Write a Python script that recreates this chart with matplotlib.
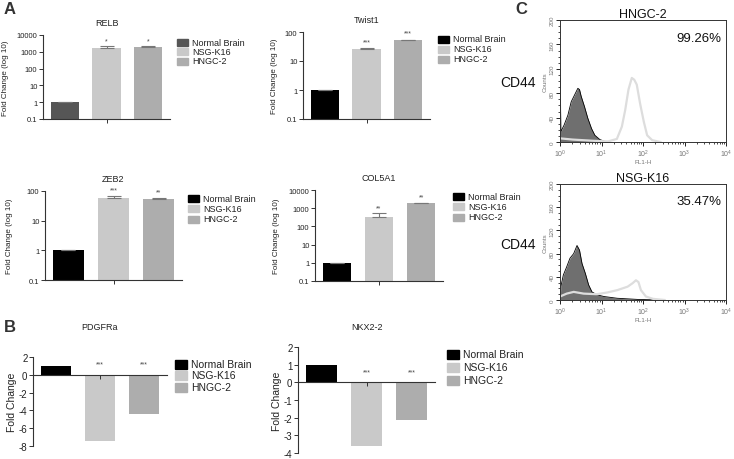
import numpy as np
import matplotlib
matplotlib.use("Agg")
import matplotlib.pyplot as plt
from matplotlib.patches import Rectangle
from matplotlib.ticker import FixedLocator, NullLocator, LogLocator, MultipleLocator

plt.rcParams["font.family"] = ["Liberation Sans", "DejaVu Sans"]
plt.rcParams["axes.unicode_minus"] = False

# DATA
groups = ["Normal Brain", "NSG-K16", "HNGC-2"]

relb_vals = [1, 1800, 1900]
relb_err = [0, 300, 200]
relb_stars = ["", "*", "*"]

twist_vals = [1, 26, 52]
twist_err = [0, 2, 3]
twist_stars = ["", "***", "***"]

zeb2_vals = [1, 60, 53]
zeb2_err = [0, 6, 5]
zeb2_stars = ["", "***", "**"]

col5a1_vals = [1, 320, 1900]
col5a1_err = [0, 230, 150]
col5a1_stars = ["", "**", "**"]

pdgfra_vals = [1, -7.4, -4.4]
pdgfra_stars = ["", "***", "***"]

nkx_vals = [1, -3.6, -2.15]
nkx_stars = ["", "***", "***"]

log_ticks = [0.1, 1, 10, 100, 1000, 10000]
log_labels = ["0.1", "1", "10", "100", "1000", "10000"]

# flow cytometry histograms (log10 of FL1-H, counts)
hngc_iso_x = [0.0, 0.005, 0.02, 0.1, 0.19, 0.27, 0.35, 0.43, 0.47, 0.51, 0.59, 0.67, 0.76, 0.84, 0.96, 1.08, 1.2]
hngc_iso_y = [0, 105, 17, 28, 44, 66, 77, 88, 86, 75, 58, 39, 22, 11, 4, 1, 0]
hngc_cd44_x = [0.0, 0.3, 0.8, 1.16, 1.37, 1.49, 1.57, 1.65, 1.73, 1.79, 1.85, 1.93, 2.02, 2.1, 2.22, 2.42]
hngc_cd44_y = [6, 4, 2, 1, 5, 25, 52, 86, 105, 102, 94, 63, 33, 11, 3, 0]

nsg_iso_x = [0.0, 0.02, 0.08, 0.16, 0.24, 0.33, 0.41, 0.47, 0.53, 0.61, 0.69, 0.77, 0.89, 1.06, 1.38, 1.87, 2.44]
nsg_iso_y = [0, 23, 43, 57, 72, 80, 94, 86, 63, 46, 26, 14, 9, 6, 3, 1, 0]
nsg_cd44_x = [0.0, 0.16, 0.33, 0.57, 0.89, 1.14, 1.38, 1.63, 1.75, 1.83, 1.89, 1.95, 2.07, 2.24, 2.52]
nsg_cd44_y = [6, 11, 14, 11, 10, 13, 17, 23, 29, 34, 31, 17, 6, 2, 0]

colors = ["black", "#c9c9c9", "#adadad"]

W, H = 734, 460
fig = plt.figure(figsize=(W / 100, H / 100), dpi=100)


def px_axes(x0, y0, x1, y1):
    return fig.add_axes([x0 / W, 1 - y1 / H, (x1 - x0) / W, (y1 - y0) / H])


def legend_px(x, y, dy, size, fs, first_color):
    cols = [first_color] + colors[1:]
    for i, name in enumerate(groups):
        yc = y + i * dy
        fig.add_artist(Rectangle((x / W, 1 - (yc + size[1] / 2) / H),
                                 size[0] / W, size[1] / H, color=cols[i],
                                 transform=fig.transFigure))
        fig.text((x + size[0] + 4) / W, 1 - yc / H, name, fontsize=fs,
                 va="center", ha="left", color="#222222")


def style_bar_axes(ax):
    for s in ["top", "right"]:
        ax.spines[s].set_visible(False)
    for s in ["left", "bottom"]:
        ax.spines[s].set_color("#333333")
        ax.spines[s].set_linewidth(0.8)
    ax.tick_params(length=3, width=0.7, color="#333333", labelsize=5.5,
                   pad=1, labelcolor="#222222")
    ax.set_xticks([1])
    ax.set_xticklabels([])
    ax.set_xlim(-0.52, 2.52)
    ax.patch.set_alpha(0)


def log_panel(box, vals, errs, stars, title, ymax, first_color, leg, ylab_x):
    ax = px_axes(*box)
    cols = [first_color] + colors[1:]
    ax.bar(range(3), vals, width=0.68, color=cols,
           yerr=[[0, 0, 0], errs], error_kw=dict(ecolor="#777777", elinewidth=0.8,
                                                 capsize=5, capthick=0.8))
    ax.set_yscale("log")
    ax.set_ylim(0.1, ymax)
    ticks = [t for t in log_ticks if t <= ymax]
    ax.yaxis.set_major_locator(FixedLocator(ticks))
    ax.set_yticklabels(log_labels[:len(ticks)])
    ax.yaxis.set_minor_locator(NullLocator())
    style_bar_axes(ax)
    for i in range(3):
        if stars[i]:
            ax.text(i, (vals[i] + errs[i]) * 1.25, stars[i], ha="center",
                    va="bottom", fontsize=5, color="#444444")
    ax.set_title(title, fontsize=6.5, pad=7, color="#222222")
    fig.text(ylab_x / W, 1 - (box[1] + box[3]) / 2 / H, "Fold Change (log 10)",
             rotation=90, fontsize=5.8, ha="center", va="center", color="#222222")
    legend_px(*leg, (11, 7), 6.5, first_color)
    return ax


# A: log-scale bar charts
log_panel((43, 36, 170, 120), relb_vals, relb_err, relb_stars, "RELB", 10000,
          "#565656", (177, 43, 9.5), 6)
log_panel((303, 33, 430, 120), twist_vals, twist_err, twist_stars, "Twist1", 100,
          "black", (438, 40, 10), 274)
log_panel((45, 192, 182, 281), zeb2_vals, zeb2_err, zeb2_stars, "ZEB2", 100,
          "black", (188, 199, 10.5), 10)
log_panel((315, 191, 443, 282), col5a1_vals, col5a1_err, col5a1_stars, "COL5A1", 10000,
          "black", (453, 197, 10.5), 276)


# B: linear bar charts
def lin_panel(box, vals, stars, star_y, title, ylim, ystep, leg, ylab_x, title_pad):
    ax = px_axes(*box)
    ax.bar(range(3), vals, width=0.68, color=colors)
    ax.set_ylim(*ylim)
    ticks = np.arange(ylim[0], ylim[1] + ystep, ystep)
    ax.yaxis.set_major_locator(FixedLocator(ticks))
    ax.set_yticklabels([f"{t:g}" for t in ticks])
    style_bar_axes(ax)
    ax.tick_params(labelsize=7)
    ax.spines["bottom"].set_position(("data", 0))
    for i in range(3):
        if stars[i]:
            ax.text(i, star_y, stars[i], ha="center", va="center",
                    fontsize=5, color="#444444")
    ax.set_title(title, fontsize=6.5, pad=title_pad, color="#222222")
    fig.text(ylab_x / W, 1 - (box[1] + box[3]) / 2 / H, "Fold Change",
             rotation=90, fontsize=7.5, ha="center", va="center", color="#222222")
    legend_px(*leg, (12, 9), 7.5, "black")
    return ax


lin_panel((33, 358, 167, 447), pdgfra_vals, pdgfra_stars, 1.2, "PDGFRa", (-8, 2), 2,
          (175, 365, 11.5), 12, 20)
lin_panel((298, 348, 435, 454), nkx_vals, nkx_stars, 0.6, "NKX2-2", (-4, 2), 1,
          (447, 355, 13), 277, 13)


# C: flow cytometry histograms
def flow_panel(box, iso_x, iso_y, cd_x, cd_y, title, pct, cd44_y):
    ax = px_axes(*box)
    ix = np.power(10.0, iso_x)
    cx = np.power(10.0, cd_x)
    ax.fill_between(ix, iso_y, color="#6f6f6f", lw=0)
    ax.plot(ix, iso_y, color="black", lw=0.6)
    ax.plot(cx, cd_y, color="#dddddd", lw=1.6)
    ax.set_xscale("log")
    ax.set_xlim(1, 10000)
    ax.set_ylim(0, 200)
    ax.yaxis.set_major_locator(FixedLocator([0, 40, 80, 120, 160, 200]))
    ax.yaxis.set_minor_locator(MultipleLocator(10))
    ax.xaxis.set_major_locator(LogLocator(base=10))
    ax.xaxis.set_minor_locator(LogLocator(base=10, subs=np.arange(2, 10)))
    for s in ax.spines.values():
        s.set_linewidth(0.7)
        s.set_color("#333333")
    ax.tick_params(which="major", length=3, width=0.6, labelsize=5, pad=1,
                   labelcolor="#777777")
    ax.tick_params(which="minor", length=1.5, width=0.5)
    ax.tick_params(axis="y", labelrotation=90, labelsize=4.5)
    for lbl in ax.get_yticklabels():
        lbl.set_va("center")
    ax.set_xlabel("FL1-H", fontsize=4.5, labelpad=0, color="#777777")
    ax.set_ylabel("Counts", fontsize=4.5, labelpad=1, color="#777777")
    ax.set_title(title, fontsize=9, pad=2, color="#111111")
    ax.text(0.97, 0.85, pct, transform=ax.transAxes, ha="right", va="center",
            fontsize=9.5, color="#111111")
    fig.text(536 / W, 1 - cd44_y / H, "CD44", fontsize=10, ha="right",
             va="center", color="#111111")
    return ax


flow_panel((560, 21, 726, 143), hngc_iso_x, hngc_iso_y, hngc_cd44_x, hngc_cd44_y,
           "HNGC-2", "99.26%", 83)
flow_panel((560, 185, 726, 301), nsg_iso_x, nsg_iso_y, nsg_cd44_x, nsg_cd44_y,
           "NSG-K16", "35.47%", 245)

# panel letters
fig.text(4 / W, 1 - 10 / H, "A", fontsize=12, fontweight="bold", va="center", color="#333333")
fig.text(4 / W, 1 - 327 / H, "B", fontsize=12, fontweight="bold", va="center", color="#333333")
fig.text(515 / W, 1 - 10 / H, "C", fontsize=12, fontweight="bold", va="center", color="#333333")

fig.savefig("out.png", dpi=100)
